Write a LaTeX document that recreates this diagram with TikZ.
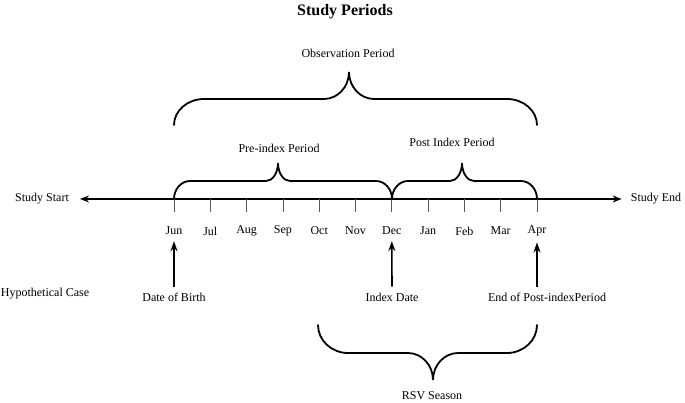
\documentclass[tikz,border=0pt]{standalone}
\usepackage{fontspec}
\setmainfont{Liberation Serif}
\usetikzlibrary{arrows.meta,calc}

% curly brace: x1, x2, xmid, yend, yflat, ytip, corner, tip
\newcommand{\periodbrace}[8]{%
  \draw[brc] (#1,#4) .. controls (#1,#5+0.45*#4-0.45*#5) and (#1+0.45*#7,#5) .. (#1+#7,#5)
    -- (#3-#8,#5) .. controls (#3-0.45*#8,#5) and (#3,#6+0.55*#5-0.55*#6) .. (#3,#6)
    .. controls (#3,#6+0.55*#5-0.55*#6) and (#3+0.45*#8,#5) .. (#3+#8,#5)
    -- (#2-#7,#5) .. controls (#2-0.45*#7,#5) and (#2,#5+0.45*#4-0.45*#5) .. (#2,#4);}

\begin{document}
\begin{tikzpicture}[x=1pt, y=-1pt,
  lbl/.style={font=\fontsize{12}{14}\selectfont, inner sep=2pt},
  brc/.style={line width=1.8pt, line cap=round},
  axisline/.style={line width=1.4pt, {Stealth[length=9pt,width=7pt]}-{Stealth[length=9pt,width=7pt]}},
  tickmark/.style={line width=0.7pt, black!65},
  uparr/.style={-{Stealth[length=10pt,width=7pt]}, line width=1.6pt}
]
  \useasboundingbox (0,0) rectangle (685,403);

  \node[font=\fontsize{16}{18}\selectfont\bfseries] (title) at (345,12) {Study Periods};

  % time axis
  \node[lbl] (sstart) at (42,199) {Study Start};
  \node[lbl] (send) at (656,199) {Study End};
  \draw[axisline, shorten <=9pt, shorten >=7pt] (sstart) -- (send);

  \foreach \m [count=\i from 0] in {Jun,Jul,Aug,Sep,Oct,Nov,Dec,Jan,Feb,Mar,Apr}{
    \coordinate (t\m) at (174+36.3*\i,199);
    \draw[tickmark] (t\m) -- ++(0,13);
    \node[lbl] (m\m) at (174+36.3*\i,231) {\m};
  }

  % periods
  \periodbrace{174}{537}{349}{125}{99}{72}{30}{25}
  \node[lbl] (obs) at (348,53) {Observation Period};
  \periodbrace{174}{392}{278}{199}{181}{163}{16}{12}
  \node[lbl] (pre) at (279,148) {Pre-index Period};
  \periodbrace{392}{537}{462}{199}{181}{163}{16}{12}
  \node[lbl] (post) at (452,142) {Post Index Period};

  % hypothetical case
  \node[lbl] (hyp) at (45,294) {Hypothetical Case};
  \node[lbl] (dob) at (174,297) {Date of Birth};
  \node[lbl] (idx) at (392,297) {Index Date};
  \node[lbl] (epi) at (547,297) {End of Post-indexPeriod};
  \draw[uparr, shorten <=4pt, shorten >=4pt] (dob.north) -- (mJun.south);
  \draw[uparr, shorten <=4pt, shorten >=4pt] (idx.north) -- (mDec.south);
  \draw[uparr, shorten <=4pt, shorten >=4pt] (epi.north -| mApr) -- (mApr.south);

  % season
  \periodbrace{318}{537}{433}{325}{353}{380}{30}{25}
  \node[lbl] (rsv) at (432,396) {RSV Season};
\end{tikzpicture}
\end{document}
